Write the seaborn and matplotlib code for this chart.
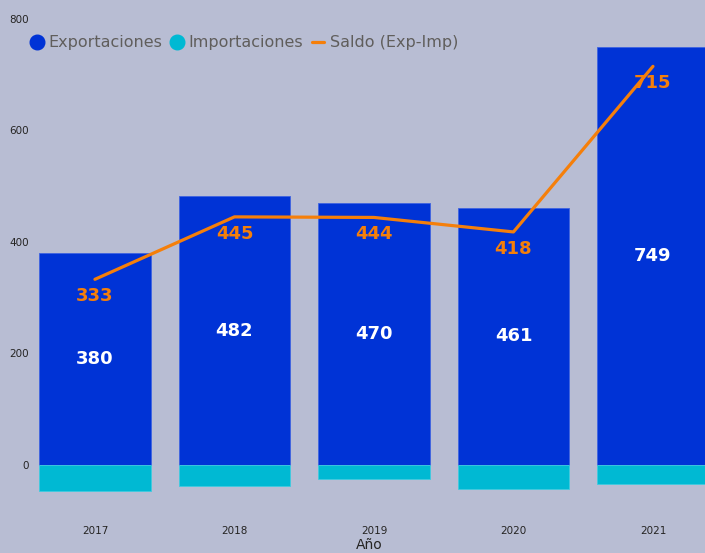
import pandas as pd
import matplotlib.pyplot as plt
import seaborn as sns
from matplotlib.lines import Line2D

years = ["2017", "2018", "2019", "2020", "2021"]
exportaciones = [380, 482, 470, 461, 749]
importaciones = [47, 37, 26, 43, 34]
saldo = [333, 445, 444, 418, 715]
y_ticks = [0, 200, 400, 600, 800]

BG = "#B8BDD3"
C_EXP = "#0033D6"
C_IMP = "#00B9D3"
C_SAL = "#F57F0A"
TXT = "#252423"

df = pd.DataFrame({
    "Año": years,
    "Exportaciones": exportaciones,
    "Importaciones": [-v for v in importaciones],
    "Saldo": saldo,
})

sns.set_style("white")
plt.rcParams["font.family"] = ["DejaVu Sans"]

fig = plt.figure(figsize=(7.05, 5.53), dpi=100, facecolor=BG)
ax = fig.add_axes([33 / 705, 33 / 553, 672 / 705, 520 / 553], facecolor=BG)

sns.barplot(data=df, x="Año", y="Exportaciones", order=years, color=C_EXP,
            width=0.8, edgecolor="#3F63E0", linewidth=0.6, ax=ax, saturation=1)
sns.barplot(data=df, x="Año", y="Importaciones", order=years, color=C_IMP,
            width=0.8, edgecolor="#3FCBE0", linewidth=0.6, ax=ax, saturation=1)
sns.lineplot(data=df, x="Año", y="Saldo", color=C_SAL, linewidth=2.3, ax=ax,
             sort=False)

for i, v in enumerate(exportaciones):
    ax.text(i, v / 2, f"{v}", color="white", fontsize=13, fontweight="bold",
            ha="center", va="center")
for i, v in enumerate(saldo):
    ax.annotate(f"{v}", (i, v), xytext=(0, -17), textcoords="offset pixels",
                color=C_SAL, fontsize=13, fontweight="bold",
                ha="center", va="center")

ax.set_xlim(-0.444, 4.373)
ax.set_ylim(-98.7, 834)
ax.set_yticks(y_ticks)
ax.tick_params(axis="both", length=0, labelsize=7.5, labelcolor=TXT)
ax.tick_params(axis="y", pad=3)
ax.tick_params(axis="x", pad=4)
ax.set_ylabel("")
ax.set_xlabel("Año", fontsize=10, color=TXT, labelpad=2)
sns.despine(ax=ax, left=True, bottom=True)

handles = [
    Line2D([], [], marker="o", linestyle="", markersize=10.5, color=C_EXP),
    Line2D([], [], marker="o", linestyle="", markersize=10.5, color=C_IMP),
    Line2D([], [], color=C_SAL, linewidth=2.3),
]
labels = ["Exportaciones", "Importaciones", "Saldo (Exp-Imp)"]
fig.legend(handles, labels, loc="center left", bbox_to_anchor=(31 / 705, 1 - 43 / 553),
           ncol=3, frameon=False, fontsize=11.5, labelcolor="#605E5C",
           handlelength=0.75, handletextpad=0.35, columnspacing=0.55,
           borderaxespad=0, borderpad=0)

plt.savefig("out.png", dpi=100, facecolor=BG)
plt.close()
